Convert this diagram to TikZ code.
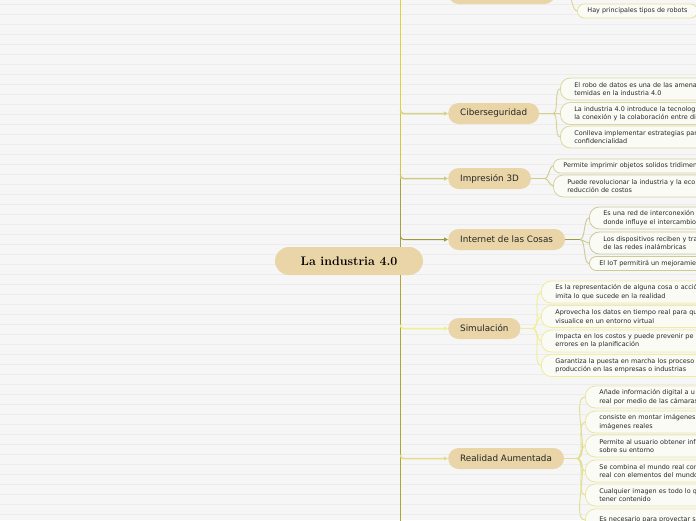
\documentclass[tikz,border=0pt]{standalone}
\usepackage{fontspec}
\newfontfamily\dejavu{DejaVu Sans}
\usetikzlibrary{arrows.meta}
\definecolor{bgc}{HTML}{F6F6F6}
\definecolor{stripec}{HTML}{ECECEC}
\definecolor{nfill}{HTML}{E9D5A7}
\definecolor{txt}{HTML}{262626}
\definecolor{trA}{HTML}{DCD43C}
\definecolor{trB}{HTML}{CFC944}
\definecolor{trC}{HTML}{A6A240}
\definecolor{trD}{HTML}{ACA634}
\definecolor{cTop}{HTML}{DCD690}
\definecolor{cCib}{HTML}{D6D28C}
\definecolor{cImp}{HTML}{CFCB86}
\definecolor{cIoT}{HTML}{9C9A3E}
\definecolor{cSim}{HTML}{F2EE8E}
\definecolor{cRA}{HTML}{E2DE8E}
\definecolor{bTop}{HTML}{E4E0A0}
\definecolor{bCib}{HTML}{DAD7A4}
\definecolor{bImp}{HTML}{D5D2A0}
\definecolor{bIoT}{HTML}{CCCA96}
\definecolor{bSim}{HTML}{F0EC9C}
\definecolor{bRA}{HTML}{EAE6A2}
\definecolor{lfill}{HTML}{FBFBF6}
\tikzset{
  rootnode/.style={fill=nfill, rounded corners=14pt, minimum width=148pt, minimum height=28pt, inner sep=0pt, text=black, font=\fontsize{12.4}{14}\selectfont\bfseries},
  branchnode/.style={fill=nfill, rounded corners=10.5pt, minimum height=21pt, inner xsep=12pt, inner ysep=0pt, anchor=west, text=txt, font=\dejavu\fontsize{8.8}{10}\selectfont},
  leafone/.style={draw, fill=lfill, line width=0.8pt, rounded corners=7pt, minimum height=14pt, inner xsep=10pt, inner ysep=0pt, anchor=west, text=txt, align=left, font=\dejavu\fontsize{6.45}{8.3}\selectfont},
  leaftwo/.style={leafone, rounded corners=10pt, minimum height=22pt, inner xsep=14pt},
  wide/.style={text width=170pt},
  trunkline/.style={line width=1.5pt},
  branchconn/.style={line width=1.5pt, rounded corners=3pt, -{Triangle[length=4pt,width=4pt]}},
  leafconn/.style={line width=0.9pt},
}
\begin{document}
\begin{tikzpicture}[x=1pt,y=-1pt]
\useasboundingbox (0,0) rectangle (696,520);
\clip (0,0) rectangle (696,520);
\fill[bgc] (0,0) rectangle (696,520);
\foreach \k in {0,...,51}{
  \fill[stripec] (0,{3.5+10*\k}) rectangle (696,{4.5+10*\k});
}
% root and trunk coordinates
\node[rootnode] (root) at (349,261) {La industria 4.0};
\coordinate (tTop) at (400.5,-20);
\coordinate (tT) at (400.5,-6.5);
\coordinate (tC) at (400.5,113.5);
\coordinate (tI) at (400.5,178.5);
\coordinate (tN) at (400.5,239.5);
\coordinate (rTop) at (400.5,247);
\coordinate (rBot) at (400.5,275);
\coordinate (tS) at (400.5,328.5);
\coordinate (tR) at (400.5,458.5);
\coordinate (tEnd) at (400.5,540);
% trunk
\draw[trunkline, trA] (tTop) -- (tC);
\draw[trunkline, trB] (tC) -- (tI);
\draw[trunkline, trC] (tI) -- (rTop);
\draw[trunkline, trD] (rBot) -- (tS);
\draw[trunkline, trD] (tS) -- (tEnd);
% branch nodes
\node[branchnode, minimum width=107pt] (top) at (448,-6.5) {};
\node[branchnode] (cib) at (448,113.5) {Ciberseguridad};
\node[branchnode] (imp) at (448,178.5) {Impresión 3D};
\node[branchnode] (iot) at (448,239.5) {Internet de las Cosas};
\node[branchnode] (sim) at (448,328.5) {Simulación};
\node[branchnode] (ra) at (448,458.5) {Realidad Aumentada};
% branch connectors
\draw[branchconn, cCib] ([yshift=4pt]tC) |- (cib.west);
\draw[branchconn, cImp] ([yshift=4pt]tI) |- (imp.west);
\draw[branchconn, cIoT, line width=1pt] ([yshift=4pt]tN) |- (iot.west);
\draw[branchconn, cSim] ([yshift=4pt]tS) |- (sim.west);
\draw[branchconn, cRA] ([yshift=4pt]tR) |- (ra.west);
% fan points
\coordinate (fTop) at (567,-6.5);
\coordinate (fCib) at (553,113.5);
\coordinate (fImp) at (545,178.5);
\coordinate (fIoT) at (580,239.5);
\coordinate (fSim) at (533,328.5);
\coordinate (fRA) at (577,458.5);
% leaves: top
\node[leafone, draw=bTop] (t1) at (577,11) {Hay principales tipos de robots};
% Ciberseguridad
\node[leaftwo, wide, draw=bCib] (c1) at (560,89) {El robo de datos es una de las amena\\temidas en la industria 4.0};
\node[leaftwo, wide, draw=bCib] (c2) at (560,113.5) {La industria 4.0 introduce la tecnolog\\la conexión y la colaboración entre di};
\node[leaftwo, wide, draw=bCib] (c3) at (560,137) {Conlleva implementar estrategias par\\confidencialidad};
% Impresion 3D
\node[leafone, wide, draw=bImp] (i1) at (553,166) {Permite imprimir objetos solidos tridimen};
\node[leaftwo, wide, draw=bImp] (i2) at (553,186) {Puede revolucionar la industria y la eco\\reducción de costos};
% Internet de las Cosas
\node[leaftwo, wide, draw=bIoT] (n1) at (589,218) {Es una red de interconexión\\donde influye el intercambio};
\node[leaftwo, wide, draw=bIoT] (n2) at (589,243) {Los dispositivos reciben y tra\\de las redes inalámbricas};
\node[leafone, wide, draw=bIoT] (n3) at (589,263.5) {El IoT permitirá un mejoramie};
% Simulacion
\node[leaftwo, wide, draw=bSim] (s1) at (541,292) {Es la representación de alguna cosa o acció\\imita lo que sucede en la realidad};
\node[leaftwo, wide, draw=bSim] (s2) at (541,316.5) {Aprovecha los datos en tiempo real para qu\\visualice en un entorno virtual};
\node[leaftwo, wide, draw=bSim] (s3) at (541,341) {Impacta en los costos y puede prevenir pe\\errores en la planificación};
\node[leaftwo, wide, draw=bSim] (s4) at (541,365.5) {Garantiza la puesta en marcha los proceso\\producción en las empresas o industrias};
% Realidad Aumentada
\node[leaftwo, wide, draw=bRA] (r1) at (585,397) {Añade información digital a u\\real por medio de las cámaras};
\node[leaftwo, wide, draw=bRA] (r2) at (585,422) {consiste en montar imágenes\\imágenes reales};
\node[leaftwo, wide, draw=bRA] (r3) at (585,446) {Permite al usuario obtener inf\\sobre su entorno};
\node[leaftwo, wide, draw=bRA] (r4) at (585,471) {Se combina el mundo real con\\real con elementos del mundo};
\node[leaftwo, wide, draw=bRA] (r5) at (585,495) {Cualquier imagen es todo lo q\\tener contenido};
\node[leaftwo, wide, draw=bRA] (r6) at (585,520) {Es necesario para proyectar s\\};
% stubs
\draw[leafconn, cTop] (top.east) -- (fTop);
\draw[leafconn, cCib, line width=1.5pt] (cib.east) -- (fCib);
\draw[leafconn, cImp, line width=1.5pt] (imp.east) -- (fImp);
\draw[leafconn, cIoT] (iot.east) -- (fIoT);
\draw[leafconn, cSim, line width=1.5pt] (sim.east) -- (fSim);
\draw[leafconn, cRA, line width=1.5pt] (ra.east) -- (fRA);
% fans
\draw[leafconn, cTop] (fTop) to[out=0,in=180,looseness=0.6] (t1.west);
\foreach \n in {c1,c2,c3}{\draw[leafconn, cCib] (fCib) to[out=0,in=180,looseness=0.6] (\n.west);}
\foreach \n in {i1,i2}{\draw[leafconn, cImp] (fImp) to[out=0,in=180,looseness=0.6] (\n.west);}
\foreach \n in {n1,n2,n3}{\draw[leafconn, bIoT] (fIoT) to[out=0,in=180,looseness=0.6] (\n.west);}
\foreach \n in {s1,s2,s3,s4}{\draw[leafconn, cSim] (fSim) to[out=0,in=180,looseness=0.6] (\n.west);}
\foreach \n in {r1,r2,r3,r4,r5,r6}{\draw[leafconn, cRA] (fRA) to[out=0,in=180,looseness=0.6] (\n.west);}
\end{tikzpicture}
\end{document}
